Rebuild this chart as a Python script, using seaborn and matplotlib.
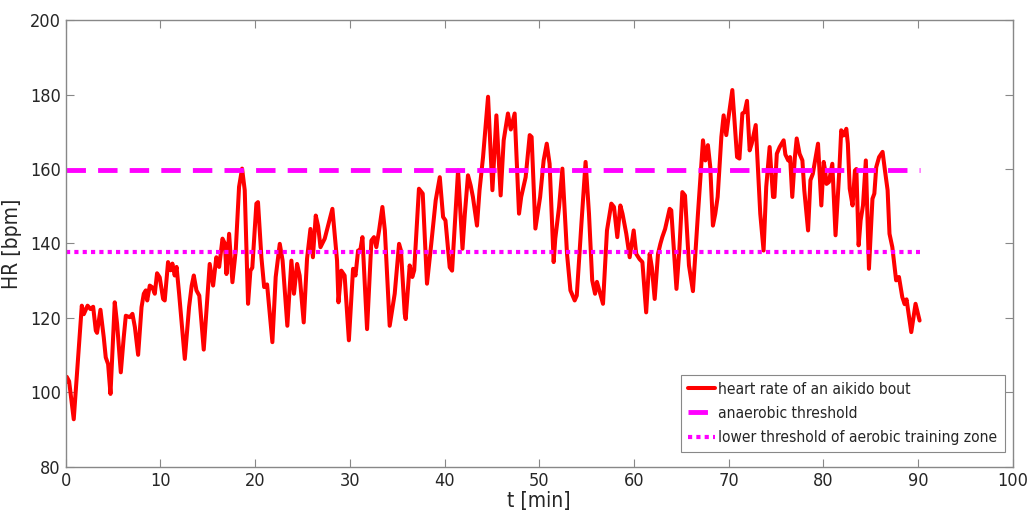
import pandas as pd
import matplotlib
matplotlib.use("Agg")
import matplotlib.pyplot as plt
import seaborn as sns

# heart rate trace (t in min, HR in bpm)
t_min = [0.0, 0.1, 0.35, 0.84, 1.69, 1.9, 2.3, 2.6, 2.89, 3.17, 3.3, 3.66, 4.01, 4.22, 4.47, 4.72,
         5.17, 5.42, 5.81, 6.12, 6.34, 6.76, 7.04, 7.3, 7.64, 8.0, 8.24, 8.45, 8.6, 8.87, 9.15, 9.4,
         9.64, 9.92, 10.28, 10.45, 10.8, 11.05, 11.26, 11.5, 11.7, 11.97, 12.57, 13.02, 13.3, 13.52,
         13.8, 14.1, 14.57, 15.2, 15.56, 15.9, 16.2, 16.55, 16.8, 16.97, 17.25, 17.6, 17.95, 18.3,
         18.62, 18.9, 19.25, 19.5, 19.7, 20.13, 20.3, 20.66, 20.95, 21.26, 21.82, 22.17, 22.6, 22.9,
         23.4, 23.83, 24.1, 24.43, 24.7, 25.13, 25.48, 25.84, 26.1, 26.4, 26.65, 26.9, 27.35, 27.7,
         28.16, 28.65, 28.8, 29.1, 29.45, 29.9, 30.34, 30.6, 30.87, 31.1, 31.33, 31.82, 32.28, 32.55,
         32.8, 33.09, 33.44, 33.7, 34.21, 34.74, 35.2, 35.4, 35.8, 35.9, 36.32, 36.6, 36.8, 37.3,
         37.7, 38.15, 38.6, 39.07, 39.5, 39.85, 40.1, 40.55, 40.8, 41.43, 41.9, 42.15, 42.48, 42.76,
         43.0, 43.43, 43.7, 44.07, 44.6, 45.06, 45.48, 45.93, 46.25, 46.7, 47.0, 47.41, 47.87, 48.1,
         48.57, 49.0, 49.2, 49.6, 50.1, 50.47, 50.8, 51.1, 51.53, 51.7, 52.1, 52.45, 52.94, 53.3,
         53.75, 53.97, 54.46, 54.9, 55.26, 55.6, 55.9, 56.1, 56.74, 57.16, 57.62, 57.9, 58.25, 58.57,
         58.8, 59.2, 59.56, 59.98, 60.25, 60.6, 60.9, 61.3, 61.67, 61.9, 62.2, 62.55, 62.8, 63.0,
         63.3, 63.78, 63.95, 64.5, 64.8, 65.12, 65.4, 65.82, 66.24, 66.77, 67.3, 67.55, 67.82, 68.07,
         68.35, 68.6, 68.85, 69.24, 69.48, 69.76, 70.0, 70.4, 70.6, 70.9, 71.15, 71.46, 71.7, 71.95,
         72.23, 72.45, 72.87, 73.1, 73.35, 73.7, 73.98, 74.34, 74.7, 74.85, 75.1, 75.4, 75.82, 76.0,
         76.3, 76.5, 76.73, 77.0, 77.2, 77.5, 77.8, 78.0, 78.4, 78.65, 78.9, 79.45, 79.8, 80.05,
         80.2, 80.35, 80.6, 80.96, 81.3, 81.7, 81.9, 82.15, 82.44, 82.6, 82.8, 83.1, 83.35, 83.5,
         83.74, 83.95, 84.2, 84.5, 84.83, 85.2, 85.4, 85.6, 85.9, 86.27, 86.5, 86.8, 87.0, 87.3,
         87.7, 88.0, 88.35, 88.6, 88.8, 89.3, 89.75, 90.18]
hr_bpm = [102.7, 104.2, 103.0, 92.8, 123.3, 121.0, 123.3, 122.4, 123.0, 116.6, 116.0, 122.2, 114.8,
          109.4, 107.6, 99.6, 124.2, 118.4, 105.4, 114.8, 120.6, 120.2, 121.1, 117.5, 110.1, 122.9,
          126.5, 127.4, 124.7, 128.7, 128.2, 126.5, 132.0, 130.9, 125.1, 124.7, 135.0, 132.8, 134.6,
          131.4, 133.7, 126.5, 109.0, 122.9, 128.7, 131.4, 127.4, 126.0, 111.5, 134.5, 128.7, 136.3,
          133.7, 141.3, 140.0, 131.8, 142.6, 129.6, 138.1, 155.2, 160.1, 154.3, 123.8, 132.7, 133.5,
          150.7, 151.1, 136.3, 128.3, 129.0, 113.5, 131.0, 139.9, 135.4, 117.9, 135.4, 126.5, 134.5,
          131.4, 118.8, 135.9, 143.9, 136.3, 147.5, 144.7, 139.0, 141.3, 144.8, 149.3, 135.4, 124.2,
          132.7, 131.4, 114.0, 133.2, 131.4, 138.1, 138.1, 141.7, 117.0, 140.8, 141.7, 139.0, 143.5,
          149.8, 143.5, 117.9, 126.5, 139.9, 138.1, 121.1, 119.7, 134.1, 131.0, 132.8, 154.7, 153.4,
          129.2, 139.9, 151.6, 157.8, 147.1, 146.2, 133.6, 132.7, 159.6, 138.6, 148.0, 158.3, 155.6,
          152.5, 144.8, 154.3, 163.2, 179.4, 154.3, 174.4, 152.9, 167.7, 174.9, 170.6, 174.9, 148.0,
          152.5, 157.8, 169.1, 168.6, 144.0, 152.5, 162.3, 166.8, 161.4, 135.0, 141.3, 149.8, 160.1,
          137.2, 127.4, 124.7, 126.0, 145.3, 161.9, 148.0, 130.1, 126.5, 129.7, 123.8, 143.5, 150.7,
          149.8, 141.7, 150.2, 148.0, 142.6, 136.3, 143.5, 137.2, 135.8, 135.0, 121.5, 137.2, 133.6,
          125.1, 137.2, 139.9, 141.7, 143.9, 149.3, 148.9, 127.8, 138.1, 153.8, 152.9, 134.1, 127.2,
          148.0, 167.7, 162.3, 166.4, 160.5, 144.8, 148.0, 152.5, 168.6, 174.4, 169.1, 173.9, 181.2,
          173.9, 163.2, 162.8, 174.9, 175.3, 178.3, 165.0, 166.8, 171.8, 160.5, 148.0, 138.1, 155.2,
          165.9, 152.5, 152.5, 164.1, 165.9, 167.7, 163.9, 162.3, 163.2, 152.5, 163.0, 168.2, 164.1,
          162.3, 154.3, 143.5, 157.0, 158.7, 166.8, 150.2, 161.9, 159.6, 156.0, 156.5, 161.4, 142.2,
          159.6, 170.4, 169.0, 170.8, 166.8, 154.7, 150.2, 159.6, 160.0, 139.5, 146.2, 150.2, 162.3,
          133.2, 152.0, 153.4, 160.5, 163.2, 164.6, 160.0, 154.3, 142.6, 139.0, 130.1, 131.0, 125.6,
          123.7, 125.0, 116.2, 123.8, 119.3]

anaerobic_thr = 159.7
aerobic_low_thr = 137.8
t_span = [0.0, 90.18]

labels = ["heart rate of an aikido bout", "anaerobic threshold",
          "lower threshold of aerobic training zone"]

df = pd.DataFrame({"t": t_min, "hr": hr_bpm})

sns.set_style("white")
plt.rcParams['font.family'] = ['DejaVu Sans']
plt.rcParams['font.stretch'] = 'condensed'

fig = plt.figure(figsize=(10.28, 5.27), dpi=100)
ax = fig.add_axes([0.064, 0.114, 0.921, 0.848])

sns.lineplot(data=df, x="t", y="hr", color="#ff0000", linewidth=2.9, ax=ax,
             label=labels[0], sort=False)
sns.lineplot(x=t_span, y=[anaerobic_thr] * 2, color="#ff00ff", linewidth=3.5,
             linestyle=(0, (4, 2.5)), ax=ax, label=labels[1])
sns.lineplot(x=t_span, y=[aerobic_low_thr] * 2, color="#ff00ff", linewidth=3.0,
             linestyle=(0, (1, 1)), ax=ax, label=labels[2])

ax.set_xlim(0, 100)
ax.set_ylim(80, 200)
ax.set_xticks(range(0, 101, 10))
ax.set_yticks(range(80, 201, 20))
ax.set_xlabel("t [min]", fontsize=15, color="#262626", labelpad=1)
ax.set_ylabel("HR [bpm]", fontsize=15, color="#262626", labelpad=6)
ax.tick_params(direction="in", length=6, width=0.8, colors="#888888",
               labelcolor="#262626", labelsize=13, top=True, right=True,
               bottom=True, left=True)
for sp in ax.spines.values():
    sp.set_color("#888888")
    sp.set_linewidth(1.0)

leg = ax.legend(loc="lower right", fontsize=11.2, frameon=True, fancybox=False,
                edgecolor="#888888", framealpha=1, handlelength=1.75,
                handletextpad=0.2, borderpad=0.45, labelspacing=0.6,
                borderaxespad=0.0, bbox_to_anchor=(0.9915, 0.033))
leg.get_frame().set_linewidth(0.8)

fig.savefig("out.png", dpi=100)
